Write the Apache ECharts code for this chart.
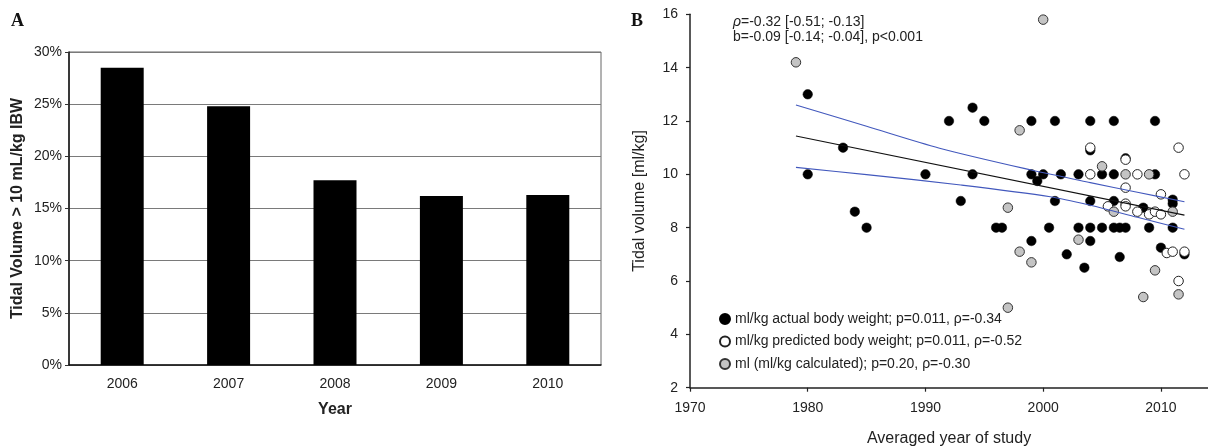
<!DOCTYPE html>
<html>
<head>
<meta charset="utf-8">
<script src="https://cdn.jsdelivr.net/npm/echarts@6/dist/echarts.min.js"></script>
<style>
html,body{margin:0;padding:0;background:#fff;}
#c{width:1208px;height:448px;}
</style>
</head>
<body>
<div id="c"></div>
<script>
// ---- Panel A data ----
var barYears = ['2006', '2007', '2008', '2009', '2010'];
var barPct = [28.5, 24.8, 17.7, 16.2, 16.3];
var pctTicks = [0, 5, 10, 15, 20, 25, 30];

// ---- Panel B data ----
var yearTicks = [1970, 1980, 1990, 2000, 2010];
var volTicks = [2, 4, 6, 8, 10, 12, 14, 16];
var actualBW = [
  [1980,13],[1980,10],[1983,11],[1984,8.6],[1985,8],[1990,10],[1992,12],[1993,9],
  [1994,12.5],[1994,10],[1995,12],[1996,8],[1996.5,8],[1999,12],[1999,10],[1999,7.5],
  [1999.5,9.75],[2000,10],[2000.5,8],[2001,12],[2001,9],[2001.5,10],[2002,7],[2003,10],
  [2003,8],[2003.5,6.5],[2004,12],[2004,10.9],[2004,9],[2004,8],[2004,7.5],[2005,10],
  [2005,8],[2006,12],[2006,10],[2006,9],[2006,8],[2006.5,8],[2006.5,6.9],[2007,10.6],
  [2007,8],[2008.5,8.75],[2009,8],[2009.5,12],[2009.5,10],[2010,7.25],[2011,9.05],
  [2011,8.9],[2011,8],[2012,7]
];
var predictedBW = [
  [2004,11.0],[2004,10],[2005.5,8.8],[2007,10.55],[2007,9.5],[2007,8.9],[2007,8.8],
  [2008,10],[2008,8.6],[2009,8.5],[2009.5,8.6],[2010,9.25],[2010,8.5],[2010.5,7.05],
  [2011,7.1],[2011.5,11],[2011.5,6],[2012,10],[2012,7.1]
];
var calculated = [
  [1979,14.2],[1997,8.75],[1997,5],[1998,11.65],[1998,7.1],[1999,6.7],[2000,15.8],
  [2003,7.55],[2005,10.3],[2006,8.6],[2007,10],[2008.5,5.4],[2009,10],[2009.5,6.4],
  [2011,8.6],[2011.5,5.5]
];
var fitLine = [[1979,11.44],[2012,8.47]];
var upperCI = [[1979,12.6],[1985,11.8],[1991.2,10.98],[1999,10.16],[2004,9.69],[2008,9.33],[2012,8.97]];
var lowerCI = [[1979,10.26],[1985,9.99],[1993,9.6],[2000.6,9.16],[2004,8.84],[2008,8.39],[2012,7.94]];

var legendNames = [
  'ml/kg actual body weight; p=0.011, \u03c1=-0.34',
  'ml/kg predicted body weight; p=0.011, \u03c1=-0.52',
  'ml (ml/kg calculated); p=0.20, \u03c1=-0.30'
];

var SANS = '"Liberation Sans", Arial, sans-serif';
var SERIF = '"Liberation Serif", "Times New Roman", serif';

var chart = echarts.init(document.getElementById('c'), null, {renderer: 'canvas'});

var option = {
  animation: false,
  backgroundColor: '#fff',
  textStyle: {fontFamily: SANS, color: '#222'},
  grid: [
    {left: 69, top: 52, width: 532, height: 313, show: true, borderColor: '#666', borderWidth: 1,
     backgroundColor: 'transparent', containLabel: false, outerBoundsMode: 'none'},
    {left: 690, top: 14.3, width: 518, height: 373.4, containLabel: false, outerBoundsMode: 'none'}
  ],
  xAxis: [
    {
      gridIndex: 0, type: 'category', data: barYears, boundaryGap: true,
      axisLine: {show: true, lineStyle: {color: '#111', width: 1.5}},
      axisTick: {show: false},
      axisLabel: {color: '#222', fontSize: 14, fontFamily: SANS, margin: 12},
      splitLine: {show: false},
      name: 'Year', nameLocation: 'middle', nameGap: 37,
      nameTextStyle: {fontSize: 16, fontWeight: 'bold', color: '#222', fontFamily: SANS}
    },
    {
      gridIndex: 1, type: 'value', min: 1970, max: 2014, interval: 10,
      axisLine: {show: true, onZero: false, lineStyle: {color: '#222', width: 1.5}},
      axisTick: {show: true, inside: false, length: 4, lineStyle: {color: '#222', width: 1.2},
                 customValues: yearTicks},
      axisLabel: {color: '#222', fontSize: 14, fontFamily: SANS, margin: 13, customValues: yearTicks,
                  formatter: function (v) { return String(v); }},
      splitLine: {show: false},
      name: 'Averaged year of study', nameLocation: 'middle', nameGap: 43,
      nameTextStyle: {fontSize: 16, color: '#222', fontFamily: SANS}
    }
  ],
  yAxis: [
    {
      gridIndex: 0, type: 'value', min: 0, max: 30, interval: 5,
      axisLine: {show: true, lineStyle: {color: '#111', width: 1.5}},
      axisTick: {show: true, length: 4, lineStyle: {color: '#333', width: 1}},
      axisLabel: {color: '#222', fontSize: 14, fontFamily: SANS, margin: 7,
                  customValues: pctTicks, formatter: '{value}%'},
      splitLine: {show: true, lineStyle: {color: '#7a7a7a', width: 1}},
      name: 'Tidal Volume > 10 mL/kg IBW', nameLocation: 'middle', nameGap: 43, nameRotate: 90,
      nameTextStyle: {fontSize: 16, fontWeight: 'bold', color: '#222', fontFamily: SANS}
    },
    {
      gridIndex: 1, type: 'value', min: 2, max: 16, interval: 2,
      axisLine: {show: true, onZero: false, lineStyle: {color: '#222', width: 1.5}},
      axisTick: {show: true, length: 4, lineStyle: {color: '#222', width: 1.2}},
      axisLabel: {color: '#222', fontSize: 14, fontFamily: SANS, margin: 12, customValues: volTicks},
      splitLine: {show: false},
      name: 'Tidal volume [ml/kg]', nameLocation: 'middle', nameGap: 42, nameRotate: 90,
      nameTextStyle: {fontSize: 16, color: '#222', fontFamily: SANS}
    }
  ],
  legend: {
    show: true,
    orient: 'vertical',
    left: 714, top: 306,
    itemWidth: 10, itemHeight: 10, itemGap: 6.5,
    textStyle: {fontSize: 14, color: '#222', fontFamily: SANS, lineHeight: 16},
    data: legendNames.map(function (n) { return {name: n, icon: 'circle'}; }),
    selectedMode: false
  },
  series: [
    {
      type: 'bar', xAxisIndex: 0, yAxisIndex: 0, data: barPct, barWidth: 43,
      itemStyle: {color: '#000'}, silent: true
    },
    {
      name: legendNames[0], type: 'scatter', xAxisIndex: 1, yAxisIndex: 1, data: actualBW,
      symbol: 'circle', symbolSize: 9.5,
      itemStyle: {color: '#000', borderColor: '#000', borderWidth: 0.5, opacity: 1}, z: 3
    },
    {
      name: legendNames[1], type: 'scatter', xAxisIndex: 1, yAxisIndex: 1, data: predictedBW,
      symbol: 'circle', symbolSize: 9.5,
      itemStyle: {color: '#fff', borderColor: '#222', borderWidth: 1, opacity: 1}, z: 4
    },
    {
      name: legendNames[2], type: 'scatter', xAxisIndex: 1, yAxisIndex: 1, data: calculated,
      symbol: 'circle', symbolSize: 9.5,
      itemStyle: {color: '#c4c4c4', borderColor: '#333', borderWidth: 1, opacity: 1}, z: 4
    },
    {
      type: 'line', xAxisIndex: 1, yAxisIndex: 1, data: fitLine, showSymbol: false, symbol: 'none',
      lineStyle: {color: '#111', width: 1.1}, z: 5, silent: true
    },
    {
      type: 'line', xAxisIndex: 1, yAxisIndex: 1, data: upperCI, showSymbol: false, symbol: 'none',
      smooth: 0.3, lineStyle: {color: '#4258bd', width: 1.1}, z: 5, silent: true
    },
    {
      type: 'line', xAxisIndex: 1, yAxisIndex: 1, data: lowerCI, showSymbol: false, symbol: 'none',
      smooth: 0.3, lineStyle: {color: '#4258bd', width: 1.1}, z: 5, silent: true
    }
  ],
  graphic: [
    {type: 'text', left: 11, top: 12,
     style: {text: 'A', font: 'bold 18px ' + SERIF, fill: '#111'}},
    {type: 'text', left: 631, top: 12,
     style: {text: 'B', font: 'bold 18px ' + SERIF, fill: '#111'}},
    {type: 'text', left: 733, top: 15,
     style: {
       text: '{i|\u03c1}=-0.32 [-0.51; -0.13]\nb=-0.09 [-0.14; -0.04], p<0.001',
       font: '14px ' + SANS, fill: '#222', lineHeight: 15,
       rich: {i: {fontStyle: 'italic', fontSize: 14, fontFamily: SANS, fill: '#222', lineHeight: 15}}
     }}
  ]
};
chart.setOption(option);
</script>
</body>
</html>
